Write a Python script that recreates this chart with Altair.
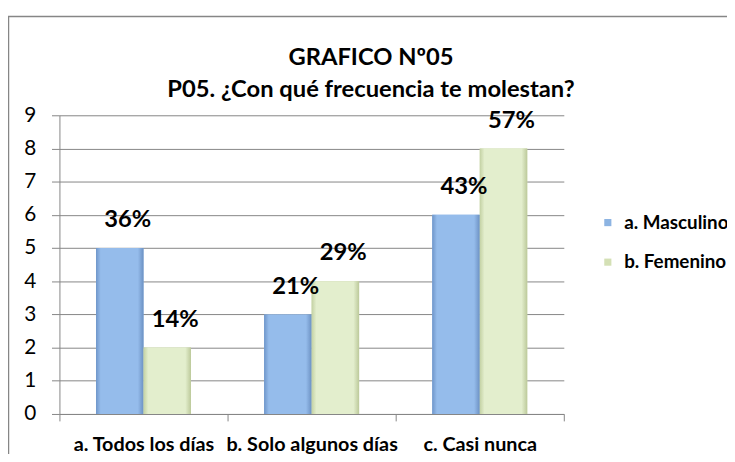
import altair as alt
import pandas as pd

categorias = ["a. Todos los días", "b. Solo algunos días", "c. Casi nunca"]
series = ["a. Masculino", "b. Femenino"]
masculino = [5, 3, 6]
femenino = [2, 4, 8]
pct_masculino = ["36%", "21%", "43%"]
pct_femenino = ["14%", "29%", "57%"]
y_ticks = [0, 1, 2, 3, 4, 5, 6, 7, 8, 9]
titulo = ["GRAFICO Nº05", "P05. ¿Con qué frecuencia te molestan?"]

rows = []
for i, c in enumerate(categorias):
    rows.append({"categoria": c, "serie": series[0], "valor": masculino[i], "pct": pct_masculino[i]})
    rows.append({"categoria": c, "serie": series[1], "valor": femenino[i], "pct": pct_femenino[i]})
df = pd.DataFrame(rows)

FONT = "Lato"
GRID = "#868686"

grad_blue = {"gradient": "linear", "x1": 0, "x2": 1, "y1": 0, "y2": 0,
             "stops": [{"offset": 0, "color": "#6F96CA"}, {"offset": 0.1, "color": "#95BCEB"},
                       {"offset": 0.88, "color": "#95BCEB"}, {"offset": 1, "color": "#6C91C3"}]}
grad_green = {"gradient": "linear", "x1": 0, "x2": 1, "y1": 0, "y2": 0,
              "stops": [{"offset": 0, "color": "#C3D1A3"}, {"offset": 0.1, "color": "#E3EECD"},
                        {"offset": 0.88, "color": "#E3EECD"}, {"offset": 1, "color": "#BCC99A"}]}

x_enc = alt.X("categoria:N", sort=categorias,
              scale=alt.Scale(paddingInner=0, paddingOuter=0),
              axis=alt.Axis(title=None, labelAngle=0, tickBand="extent", labelFont=FONT,
                            labelFontSize=20, labelFontWeight="bold", labelColor="black",
                            labelPadding=14, tickSize=7, domainColor=GRID, tickColor=GRID,
                            grid=False))
xoff = alt.XOffset("serie:N", sort=series, scale=alt.Scale(paddingInner=0, paddingOuter=0.77))
y_enc = alt.Y("valor:Q", scale=alt.Scale(domain=[0, 9], nice=False),
              axis=alt.Axis(title=None, values=y_ticks, labelFont=FONT, labelFontSize=21,
                            labelColor="black", labelPadding=16, tickSize=8,
                            domainColor=GRID, tickColor=GRID, gridColor=GRID))

base = alt.Chart(df)

frame = alt.Chart(pd.DataFrame({"k": [0]})).mark_rect(
    fill="transparent", stroke=GRID, strokeWidth=1.5
).encode(x=alt.value(-51.5), x2=alt.value(720), y=alt.value(-100), y2=alt.value(420))

title_df = pd.DataFrame({"linea": titulo})
title_style = dict(font=FONT, fontSize=24, fontWeight="bold", color="black",
                   align="center", baseline="middle")
title1 = alt.Chart(title_df).transform_filter(alt.datum.linea == titulo[0]).mark_text(
    **title_style).encode(x=alt.value(315), y=alt.value(-58), text="linea:N")
title2 = alt.Chart(title_df).transform_filter(alt.datum.linea == titulo[1]).mark_text(
    **title_style).encode(x=alt.value(315), y=alt.value(-25), text="linea:N")

bars = base.mark_bar().encode(
    x=x_enc, xOffset=xoff, y=y_enc,
    color=alt.Color("serie:N", sort=series,
                    scale=alt.Scale(domain=series, range=["#8DB4E2", "#D4E0B5"]),
                    legend=alt.Legend(title=None, orient="none", legendX=545, legendY=99,
                                      symbolType="square", symbolSize=52, labelFont=FONT,
                                      labelFontSize=19, labelFontWeight="bold",
                                      labelColor="black", rowPadding=20, labelOffset=7,
                                      symbolStrokeWidth=0))
)

overlay = base.mark_bar().encode(
    x=x_enc, xOffset=xoff, y=y_enc,
    fill=alt.condition(alt.datum.serie == series[0], alt.value(grad_blue), alt.value(grad_green))
)

labels = base.mark_text(font=FONT, fontSize=24, fontWeight="bold", color="black",
                        dy=-21, dx=8, baseline="alphabetic").encode(
    x=x_enc, xOffset=xoff, y=y_enc, text="pct:N"
)

chart = alt.layer(frame, bars, overlay, labels, title1, title2).properties(
    width=510, height=302,
    autosize=alt.AutoSizeParams(type="none"),
    padding={"left": 52, "top": 106, "right": 165, "bottom": 38},
).configure_view(stroke="transparent")

chart.save("out.html", embed_options={"renderer": "svg", "actions": False})
